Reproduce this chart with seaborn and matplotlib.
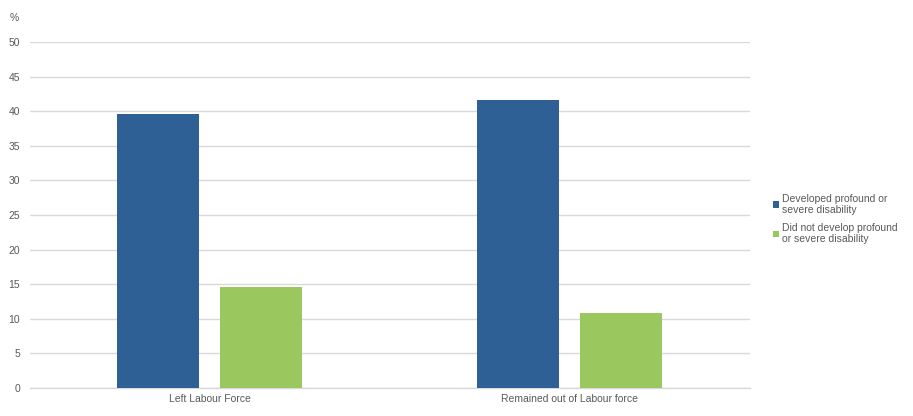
import pandas as pd
import matplotlib
matplotlib.use("Agg")
import matplotlib.pyplot as plt
import seaborn as sns

categories = ["Left Labour Force", "Remained out of Labour force"]
series = ["Developed profound or\nsevere disability", "Did not develop profound\nor severe disability"]
developed = [39.6, 41.6]
not_developed = [14.6, 10.8]
yticks = [0, 5, 10, 15, 20, 25, 30, 35, 40, 45, 50]

df = pd.DataFrame({
    "category": categories * 2,
    "group": [series[0]] * 2 + [series[1]] * 2,
    "value": developed + not_developed,
})

sns.set_theme(style="white")
plt.rcParams["font.family"] = ["Liberation Sans", "DejaVu Sans"]
text_col = "#595959"

fig = plt.figure(figsize=(9.13, 4.16), dpi=100)
ax = fig.add_axes([29.5 / 913, 28 / 416, 720 / 913, 346 / 416])

sns.barplot(data=df, x="category", y="value", hue="group",
            palette=["#2E5F95", "#9BC85E"], width=0.572, gap=0.206,
            saturation=1, linewidth=0, ax=ax, zorder=3)

ax.set_ylim(0, 50)
ax.set_xlim(-0.5, 1.5)
ax.set_yticks(yticks)
ax.yaxis.grid(True, color="#D9D9D9", linewidth=1, zorder=0)
ax.set_axisbelow(True)
for s in ["top", "right", "left"]:
    ax.spines[s].set_visible(False)
ax.spines["bottom"].set_color("#D9D9D9")
ax.spines["bottom"].set_linewidth(1)
ax.tick_params(axis="y", length=0, labelsize=7.5, colors=text_col, pad=6.8)
ax.tick_params(axis="x", length=0, labelsize=7.5, colors=text_col, pad=4)
ax.set_xlabel("")
ax.set_ylabel("")

fig.text(10 / 913, 1 - 18 / 416, "%", fontsize=7.5, color=text_col, va="center")

leg = ax.legend(loc="center left", bbox_to_anchor=(769 / 913, 1 - 219 / 416),
                bbox_transform=fig.transFigure, frameon=False, fontsize=7.5,
                handlelength=0.6, handleheight=0.6, handletextpad=0.2,
                labelspacing=0.72, borderaxespad=0)
for t in leg.get_texts():
    t.set_color(text_col)

fig.savefig("out.png", dpi=100)
